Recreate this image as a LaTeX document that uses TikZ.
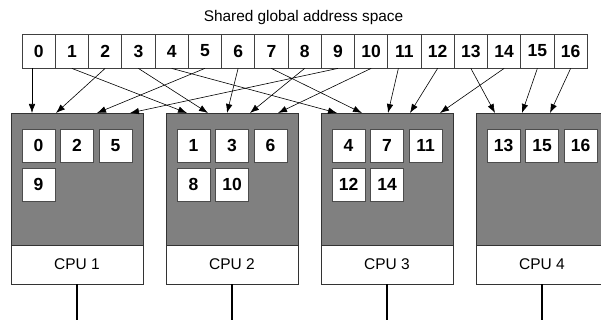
\documentclass[tikz,border=0pt]{standalone}
\usepackage{fontspec}
\setmainfont{Liberation Sans}[BoldFont={Liberation Sans Bold}]
\newfontfamily\numfont{Liberation Sans Bold}
\usetikzlibrary{arrows.meta}
\begin{document}
\begin{tikzpicture}[x=1pt,y=-1pt,
 cell/.style={draw=black!75, line width=0.8pt, fill=white, minimum width=33.25pt, minimum height=34pt, inner sep=0pt, font=\numfont\fontsize{17.5}{19}\selectfont},
 page/.style={draw=black!70, line width=0.9pt, fill=white, minimum size=33pt, inner sep=0pt, font=\numfont\fontsize{17.5}{19}\selectfont},
 mem/.style={draw=black!80, line width=0.8pt, fill=black!50, minimum width=132pt, minimum height=132pt, inner sep=0pt},
 cpu/.style={draw=black!80, line width=0.8pt, fill=white, minimum width=132pt, minimum height=39pt, inner sep=0pt, font=\fontsize{15.5}{17}\selectfont},
 link/.style={line width=0.6pt, -{Latex[length=9pt,width=6.5pt]}},
 bus/.style={line width=1.6pt}]
\useasboundingbox (0,0) rectangle (601,320);
\clip (0,0) rectangle (601,320);
\node[font=\fontsize{15.4}{17}\selectfont] (title) at (303.5,18) {Shared global address space};
\foreach \i in {0,...,16} \node[cell] (c\i) at ({22+33.25*(\i+0.5)},51) {\i};
\foreach \k in {1,...,4} {
  \pgfmathsetmacro\L{11+155*(\k-1)}
  \node[mem] (m\k) at (\L+66,179) {};
  \node[cpu] (p\k) at (\L+66,264.5) {CPU \k};
  \coordinate (b\k) at (\L+66,320);
  \draw[bus] (p\k.south) -- (b\k);
}
% pages: name / box / col / row
\foreach \n/\k/\c/\r in {0/1/0/0,2/1/1/0,5/1/2/0,9/1/0/1,
                          1/2/0/0,3/2/1/0,6/2/2/0,8/2/0/1,10/2/1/1,
                          4/3/0/0,7/3/1/0,11/3/2/0,12/3/0/1,14/3/1/1,
                          13/4/0/0,15/4/1/0,16/4/2/0} {
  \pgfmathsetmacro\L{11+155*(\k-1)}
  \node[page] (s\n) at (\L+27.5+38.5*\c,145.5+39*\r) {\n};
}
% arrow targets on memory tops
\foreach \n/\x in {0/32,2/56,5/97,9/130,1/187,3/208,6/227,8/250,10/278,
                   4/337,7/362,11/388,12/410,14/440,13/495,15/522,16/550}
  \coordinate (t\n) at (\x,113);
\draw[link] (c0.south -| t0) -- (t0);
\foreach \n in {1,...,10,12,13,14,15,16} \draw[link] (c\n.south) -- (t\n);
\draw[link] ([xshift=-6pt]c11.south) -- (t11);
\end{tikzpicture}
\end{document}
